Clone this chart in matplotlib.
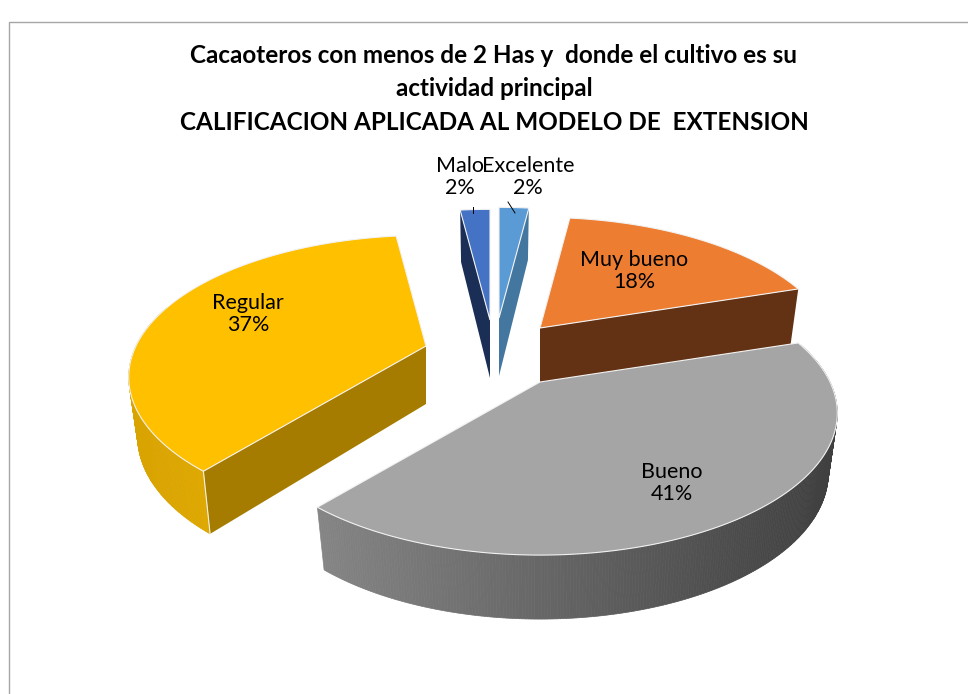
import numpy as np
import matplotlib
matplotlib.use('Agg')
import matplotlib.pyplot as plt
from matplotlib.patches import Polygon
from matplotlib.colors import to_rgb

plt.rcParams['font.family'] = ['Lato', 'DejaVu Sans']

# Datos del grafico
categorias = ['Excelente', 'Muy bueno', 'Bueno', 'Regular', 'Malo']
porcentajes = [2, 18, 41, 37, 2]
titulo = ['Cacaoteros con menos de 2 Has y  donde el cultivo es su',
          'actividad principal',
          'CALIFICACION APLICADA AL MODELO DE  EXTENSION']

# Estilo de cada sector
color_top = ['#5B9BD5', '#ED7D31', '#A5A5A5', '#FFC000', '#4472C4']
color_cut = ['#44779F', '#633214', '#7C7C7C', '#A67C00', '#1B2E56']
rim_izq = ['#44779F', '#633214', '#858585', '#D9A300', '#1B2E56']
rim_der = ['#44779F', '#633214', '#3F3F3F', '#DEA800', '#1B2E56']
puntas = [(499, 318), (540, 328), (540, 382), (426, 346), (490, 320)]
pos_label = [(528, 177), (634, 271), (672, 483), (248, 314), (460, 177)]

# Parametros de la perspectiva
A, B, K = 290, 135, 0.22

fig = plt.figure(figsize=(9.68, 6.94), dpi=100)
ax = fig.add_axes([0, 0, 1, 1])
ax.set_xlim(0, 968)
ax.set_ylim(694, 0)
ax.axis('off')


def borde(ang, px, py):
    # punto del circulo en perspectiva (angulo horario desde arriba)
    t = np.radians(ang)
    u, v = np.sin(t), np.cos(t)
    w = 1 + K * v
    return px + A * u / w, py - B * v / w


def abajo(x, y, v, px):
    # la cara inferior se contrae un poco hacia la punta
    return px + (x - px) * 0.97, y + 58 - 6 * v


def mezcla(c1, c2, f):
    return tuple((1 - f) * a + f * b for a, b in zip(to_rgb(c1), to_rgb(c2)))


inicio = 0
for i, val in enumerate(porcentajes):
    a0 = inicio * 3.6
    a1 = (inicio + val) * 3.6
    inicio += val
    px, py = puntas[i]
    angs = np.linspace(a0, a1, max(int(a1 - a0) * 2, 3))
    xs, ys = borde(angs, px, py)
    vs = np.cos(np.radians(angs))

    # caras de corte visibles
    if np.sin(np.radians(a0)) < -1e-6:
        xb, yb = abajo(xs[0], ys[0], vs[0], px)
        ax.add_patch(Polygon([(px, py), (xs[0], ys[0]), (xb, yb), (px, py + 58)],
                             fc=color_cut[i], ec='none', zorder=1))
    if np.sin(np.radians(a1)) > 1e-6:
        xb, yb = abajo(xs[-1], ys[-1], vs[-1], px)
        ax.add_patch(Polygon([(px, py), (xs[-1], ys[-1]), (xb, yb), (px, py + 58)],
                             fc=color_cut[i], ec='none', zorder=1))

    # pared curva con degradado
    vis = np.where(vs < 0.3)[0]
    if val > 2 and len(vis) > 1:
        xmin, xmax = xs[vis].min(), xs[vis].max()
        for j in vis[:-1]:
            if j + 1 > len(xs) - 1:
                continue
            x0b, y0b = abajo(xs[j], ys[j], vs[j], px)
            x1b, y1b = abajo(xs[j + 1], ys[j + 1], vs[j + 1], px)
            f = (xs[j] - xmin) / max(xmax - xmin, 1)
            c = mezcla(rim_izq[i], rim_der[i], f)
            ax.add_patch(Polygon([(xs[j], ys[j]), (xs[j + 1], ys[j + 1]), (x1b, y1b), (x0b, y0b)],
                                 fc=c, ec=c, lw=0.5, zorder=1.5))

    # cara superior
    ax.add_patch(Polygon(np.column_stack([np.r_[px, xs], np.r_[py, ys]]),
                         fc=color_top[i], ec='#F2F2F2', lw=0.8, zorder=2))

    # arista vertical de la esquina
    if np.sin(np.radians(a0)) < -1e-6 and val > 2:
        xb, yb = abajo(xs[0], ys[0], vs[0], px)
        ax.plot([xs[0], xb], [ys[0], yb], color='#F2F2F2', lw=0.8, zorder=2)

    ax.text(pos_label[i][0], pos_label[i][1], f'{categorias[i]}\n{val}%',
            ha='center', va='center', fontsize=15.5, color='black', linespacing=1.15, zorder=4)

# lineas guia de las etiquetas pequenas
ax.plot([473, 473], [207, 213], color='black', lw=0.7, zorder=3)
ax.plot([508, 515], [202, 213], color='black', lw=0.7, zorder=3)

# titulo
for txt, y in zip(titulo, [55, 88, 122]):
    ax.text(494, y, txt, ha='center', va='center', fontsize=17.5, fontweight='bold', color='black')

# marco del grafico
ax.plot([9, 9, 968], [694, 22, 22], color='#A6A6A6', lw=1.0, zorder=0)

fig.savefig('out.png', dpi=100)
